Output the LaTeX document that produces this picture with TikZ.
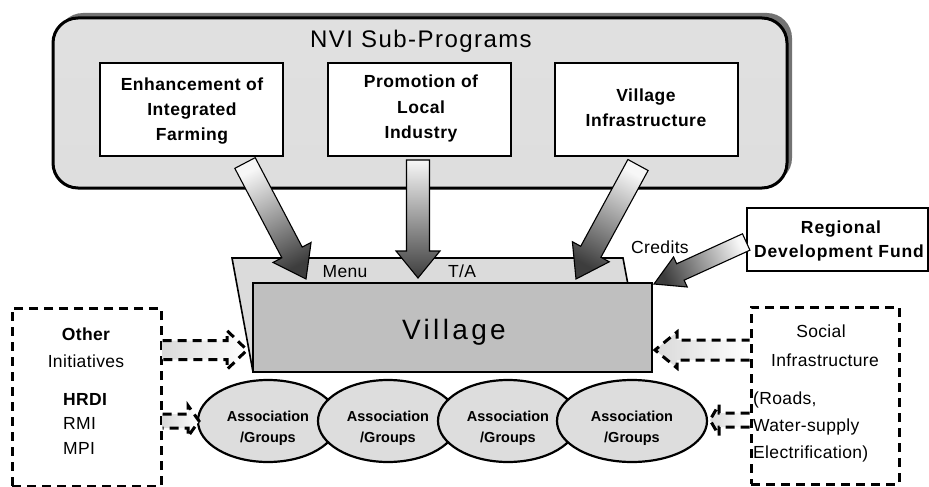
\documentclass[tikz,border=0pt]{standalone}
\usepackage{fontspec}
\setmainfont{Liberation Sans}
\usetikzlibrary{calc,shapes.geometric}

% fonts
\newcommand\titlefont{\fontsize{24}{28}\selectfont\addfontfeatures{LetterSpace=6}}
\newcommand\progfont{\fontsize{17.5}{20}\selectfont\bfseries\addfontfeatures{LetterSpace=3}}
\newcommand\villfont{\fontsize{28}{32}\selectfont\addfontfeatures{LetterSpace=12}}
\newcommand\assocfont{\fontsize{14.5}{17}\selectfont\bfseries}
\newcommand\sidefont{\fontsize{17.5}{20}\selectfont\addfontfeatures{LetterSpace=2}}
\newcommand\sideboldfont{\fontsize{17.5}{20}\selectfont\bfseries\addfontfeatures{LetterSpace=2}}
\newcommand\fundfont{\fontsize{17.5}{20}\selectfont\bfseries\addfontfeatures{LetterSpace=5}}

% corner points of a block arrow from #1 (tail) to #2 (tip):
% half shaft width #3, half head width #4, head length #5
\newcommand\arrowpts[5]{%
  \coordinate (bh) at ($(#2)!#5!(#1)$);
  \coordinate (b1) at ($(#1)!#3!90:(#2)$);
  \coordinate (b2) at ($(bh)!#3!-90:(#1)$);
  \coordinate (b3) at ($(bh)!#4!-90:(#1)$);
  \coordinate (b4) at ($(bh)!#4!90:(#1)$);
  \coordinate (b5) at ($(bh)!#3!90:(#1)$);
  \coordinate (b6) at ($(#1)!#3!-90:(#2)$);
}

\tikzset{
  txt/.style={inner sep=0pt, anchor=base},
  progbox/.style={draw, line width=1.6pt, fill=white, minimum width=183pt,
    minimum height=93pt, inner sep=0pt},
  assoc/.style={ellipse, draw, line width=2.2pt, fill=gray!27, inner sep=0pt,
    minimum height=82pt},
  dashbox/.style={draw, line width=3pt, dash pattern=on 9pt off 6pt,
    inner sep=0pt},
  dashline/.style={line width=3pt, dash pattern=on 9pt off 6pt},
  solidarrow/.style={draw, line width=1.1pt, top color=gray!6, bottom color=black!76},
  hollowfill/.style={left color=gray!30, right color=white},
}

\begin{document}
\begin{tikzpicture}[x=1pt, y=-1pt]
\useasboundingbox (0,0) rectangle (929,487);

% sub-programme frame with its shadow
\fill[black!55, rounded corners=25pt] (58,13) rectangle (792,183);
\node (nvi) [draw, line width=3pt, rounded corners=25pt, minimum width=734pt,
  minimum height=170pt, inner sep=0pt, top color=gray!24, middle color=gray!9,
  bottom color=gray!26] at (420,103) {};
\node (title) [txt, font=\titlefont] at (421,48) {NVI Sub-Programs};

\node (p1) [progbox] at (191.5,109.5) {};
\node (p2) [progbox] at (419.5,109.5) {};
\node (p3) [progbox] at (646.5,109.5) {};

\node (p1a) [txt, font=\progfont] at (192,90) {Enhancement of};
\node (p1b) [txt, font=\progfont] at (192,115) {Integrated};
\node (p1c) [txt, font=\progfont] at (192,140) {Farming};
\node (p2a) [txt, font=\progfont] at (421,88) {Promotion of};
\node (p2b) [txt, font=\progfont] at (421,113) {Local};
\node (p2c) [txt, font=\progfont] at (421,138) {Industry};
\node (p3a) [txt, font=\progfont] at (646,101) {Village};
\node (p3b) [txt, font=\progfont] at (646,126) {Infrastructure};

% menu tray behind the village
\draw[line width=1.6pt, fill=gray!28] (232,258) -- (623,258) -- (629,290)
  -- (253,372) -- cycle;
\node (menu) [txt, font=\sidefont] at (345,277) {Menu};
\node (ta) [txt, font=\sidefont] at (462,277) {T/A};

\node (village) [draw, line width=2.2pt, fill=gray!50, minimum width=399pt,
  minimum height=89pt, inner sep=0pt] at (452.5,327.5) {};
\node (villtxt) [txt, font=\villfont] at (454,339) {Village};

% associations / groups
\node (g1) [assoc, minimum width=140pt] at (268,421) {};
\node (g1t) [txt, font=\assocfont] at (268,421) {Association};
\node (g1u) [txt, font=\assocfont] at (268,442) {/Groups};
\node (g2) [assoc, minimum width=140pt] at (388,421) {};
\node (g2t) [txt, font=\assocfont] at (388,421) {Association};
\node (g2u) [txt, font=\assocfont] at (388,442) {/Groups};
\node (g3) [assoc, minimum width=140pt] at (508,421) {};
\node (g3t) [txt, font=\assocfont] at (508,421) {Association};
\node (g3u) [txt, font=\assocfont] at (508,442) {/Groups};
\node (g4) [assoc, minimum width=150pt] at (632,421) {};
\node (g4t) [txt, font=\assocfont] at (632,421) {Association};
\node (g4u) [txt, font=\assocfont] at (632,442) {/Groups};

% regional fund
\node (rdf) [draw, line width=1.6pt, fill=white, minimum width=181pt,
  minimum height=63pt, inner sep=0pt] at (837.5,239.5) {};
\node (rdfa) [txt, font=\fundfont] at (841,233) {Regional};
\node (rdfb) [txt, font=\fundfont] at (839,257) {Development Fund};
\node (cred) [txt, font=\sidefont] at (660,253) {Credits};

% side boxes
\node (lbox) [dashbox, minimum width=149pt, minimum height=178pt] at (86.5,397) {};
\node (l1) [txt, font=\sideboldfont] at (86,340) {Other};
\node (l2) [txt, font=\sidefont] at (86,367) {Initiatives};
\node (l3) [txt, font=\sideboldfont, anchor=base west] at (63,405) {HRDI};
\node (l4) [txt, font=\sidefont, anchor=base west] at (63,429) {RMI};
\node (l5) [txt, font=\sidefont, anchor=base west] at (63,454) {MPI};

\node (rbox) [dashbox, minimum width=148pt, minimum height=177pt] at (825,395.5) {};
\node (r1) [txt, font=\sidefont] at (821,337) {Social};
\node (r2) [txt, font=\sidefont] at (825,366) {Infrastructure};
\node (r3) [txt, font=\sidefont, anchor=base west] at (753,404) {(Roads,};
\node (r4) [txt, font=\sidefont, anchor=base west] at (753,431) {Water-supply};
\node (r5) [txt, font=\sidefont, anchor=base west] at (753,458) {Electrification)};

% arrow ends
\coordinate (a1s) at (245,163);  \coordinate (a1e) at (306,279);
\coordinate (a2s) at (418,160);  \coordinate (a2e) at (418,278);
\coordinate (a3s) at (638,165);  \coordinate (a3e) at (576,279);
\coordinate (a4s) at (rdf.west |- 0,242); \coordinate (a4e) at (654,284);

\coordinate (d1s) at (lbox.east |- 0,350); \coordinate (d1e) at (247,350);
\coordinate (d2s) at (lbox.east |- 0,421); \coordinate (d2e) at (199,421);
\coordinate (d3s) at (rbox.west |- 0,350); \coordinate (d3e) at (655,350);
\coordinate (d4s) at (rbox.west |- 0,420); \coordinate (d4e) at (710,420);

% solid block arrows
\arrowpts{a1s}{a1e}{11.5pt}{21.5pt}{30pt}
\path[solidarrow, shading angle=27.7] (b1) -- (b2) -- (b3) -- (a1e) -- (b4) -- (b5) -- (b6) -- cycle;
\arrowpts{a2s}{a2e}{11.5pt}{22pt}{27pt}
\path[solidarrow] (b1) -- (b2) -- (b3) -- (a2e) -- (b4) -- (b5) -- (b6) -- cycle;
\arrowpts{a3s}{a3e}{11.5pt}{21pt}{31pt}
\path[solidarrow, shading angle=-28.5] (b1) -- (b2) -- (b3) -- (a3e) -- (b4) -- (b5) -- (b6) -- cycle;
\arrowpts{a4s}{a4e}{9pt}{16.5pt}{29pt}
\path[solidarrow, shading angle=-65.7] (b1) -- (b2) -- (b3) -- (a4e) -- (b4) -- (b5) -- (b6) -- cycle;

% hollow dashed arrows
\arrowpts{d1s}{d1e}{9.5pt}{19.5pt}{20pt}
\path[hollowfill] (b1) -- (b2) -- (b3) -- (d1e) -- (b4) -- (b5) -- (b6) -- cycle;
\draw[dashline] (b1) -- (b2) -- (b3) -- (d1e) -- (b4) -- (b5) -- (b6);
\arrowpts{d2s}{d2e}{7pt}{15.5pt}{11pt}
\path[hollowfill] (b1) -- (b2) -- (b3) -- (d2e) -- (b4) -- (b5) -- (b6) -- cycle;
\draw[dashline] (b1) -- (b2) -- (b3) -- (d2e) -- (b4) -- (b5) -- (b6);
\arrowpts{d3s}{d3e}{10pt}{18pt}{22pt}
\path[hollowfill] (b1) -- (b2) -- (b3) -- (d3e) -- (b4) -- (b5) -- (b6) -- cycle;
\draw[dashline] (b1) -- (b2) -- (b3) -- (d3e) -- (b4) -- (b5) -- (b6);
\arrowpts{d4s}{d4e}{7pt}{15.5pt}{9pt}
\path[hollowfill] (b1) -- (b2) -- (b3) -- (d4e) -- (b4) -- (b5) -- (b6) -- cycle;
\draw[dashline] (b1) -- (b2) -- (b3) -- (d4e) -- (b4) -- (b5) -- (b6);
\end{tikzpicture}
\end{document}
